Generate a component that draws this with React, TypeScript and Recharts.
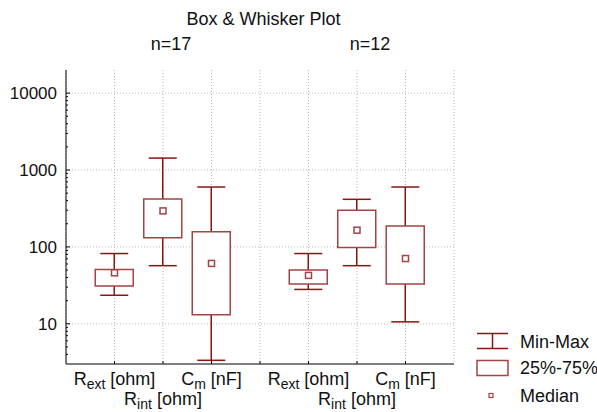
import React from 'react';
import { ComposedChart, Bar, Scatter, XAxis, YAxis, CartesianGrid } from 'recharts';

// categories: 3 variables for each group, with an empty slot between the groups
const categories = ['ext17', 'int17', 'cm17', 'gap', 'ext12', 'int12', 'cm12'];
const minValues = [23.5, 57, 3.35, null, 28, 57, 10.6];
const q1Values = [31, 132, 13.1, null, 33, 98, 33];
const medianValues = [46, 294, 61, null, 42.6, 165, 70.6];
const q3Values = [51, 420, 157, null, 50, 300, 187];
const maxValues = [82, 1430, 601, null, 82, 416, 601];

const tickLabels = [
  { base: 'R', sub: 'ext', unit: ' [ohm]', line: 1 },
  { base: 'R', sub: 'int', unit: ' [ohm]', line: 2 },
  { base: 'C', sub: 'm', unit: ' [nF]', line: 1 },
  null,
  { base: 'R', sub: 'ext', unit: ' [ohm]', line: 1 },
  { base: 'R', sub: 'int', unit: ' [ohm]', line: 2 },
  { base: 'C', sub: 'm', unit: ' [nF]', line: 1 },
];

const majorTicks = [10, 100, 1000, 10000];
const minorTicks = [
  4, 5, 6, 7, 8, 9,
  20, 30, 40, 50, 60, 70, 80, 90,
  200, 300, 400, 500, 600, 700, 800, 900,
  2000, 3000, 4000, 5000, 6000, 7000, 8000, 9000,
];
const allTicks = [...minorTicks, ...majorTicks].sort((a, b) => a - b);

const groupLabels = [
  { text: 'n=17', x: 171 },
  { text: 'n=12', x: 370 },
];

const data = categories.map((cat, i) => ({
  cat,
  min: minValues[i],
  q1: q1Values[i],
  median: medianValues[i],
  q3: q3Values[i],
  max: maxValues[i],
}));

const FONT = '"Liberation Sans", Arial, sans-serif';
const WHISKER = '#8b1414';
const BOX = '#a34444';

const Whisker = (props: any) => {
  const { x, y, width, height } = props;
  if (x == null || y == null || !height) return null;
  const cx = x + width / 2;
  const top = Math.min(y, y + height);
  const bottom = Math.max(y, y + height);
  const cap = 14;
  return (
    <g stroke={WHISKER} strokeWidth={1.5}>
      <line x1={cx} x2={cx} y1={top} y2={bottom} />
      <line x1={cx - cap} x2={cx + cap} y1={top} y2={top} />
      <line x1={cx - cap} x2={cx + cap} y1={bottom} y2={bottom} />
    </g>
  );
};

const MedianMark = (props: any) => {
  const { cx, cy } = props;
  if (cx == null || cy == null || isNaN(cy)) return null;
  return <rect x={cx - 3} y={cy - 3} width={6} height={6} fill="#fff" stroke={BOX} strokeWidth={1.5} />;
};

const XTick = (props: any) => {
  const { x, y, payload } = props;
  const lab = tickLabels[categories.indexOf(payload.value)];
  return (
    <g>
      <line x1={x} x2={x} y1={y} y2={y - 3} stroke="#000" />
      {lab && (
        <text x={x} y={y + (lab.line === 1 ? 21 : 41)} textAnchor="middle" fontSize={18} fontFamily={FONT} fill="#111">
          <tspan>{lab.base}</tspan>
          <tspan fontSize={14} dy={4}>{lab.sub}</tspan>
          <tspan dy={-4}>{lab.unit}</tspan>
        </text>
      )}
    </g>
  );
};

const LeftTick = (props: any) => {
  const { x, y, payload } = props;
  const major = majorTicks.includes(payload.value);
  return (
    <g>
      <line x1={x} x2={x + (major ? 4 : 2)} y1={y} y2={y} stroke="#000" />
      {major && (
        <text x={x - 9} y={y} dy="0.35em" textAnchor="end" fontSize={17} fontFamily={FONT} fill="#111">
          {payload.value}
        </text>
      )}
    </g>
  );
};

const RightTick = (props: any) => {
  const { x, y, payload } = props;
  const major = majorTicks.includes(payload.value);
  return <line x1={x} x2={x - (major ? 4 : 2)} y1={y} y2={y} stroke="#000" />;
};

const textStyle: React.CSSProperties = {
  position: 'absolute',
  fontFamily: FONT,
  fontSize: 18,
  color: '#111',
  whiteSpace: 'nowrap',
  lineHeight: '20px',
};

export default function App() {
  return (
    <div style={{ position: 'absolute', left: 0, top: 0, width: 597, height: 412, background: '#fff' }}>
      <ComposedChart width={597} height={412} data={data} margin={{ top: 70, right: 143, bottom: 0, left: 0 }}>
        <CartesianGrid stroke="#bbb" strokeDasharray="1 2" horizontalValues={majorTicks} />
        <XAxis
          dataKey="cat"
          type="category"
          padding={{ left: 24.25, right: 24.25 }}
          height={48}
          interval={0}
          tickSize={0}
          tickMargin={0}
          tickLine={false}
          axisLine={{ stroke: '#000' }}
          tick={<XTick />}
        />
        <XAxis
          xAxisId="top"
          dataKey="cat"
          type="category"
          orientation="top"
          padding={{ left: 24.25, right: 24.25 }}
          height={0}
          tick={false}
          tickLine={false}
          axisLine={{ stroke: '#000' }}
        />
        <YAxis
          type="number"
          scale="log"
          domain={[3, 20000]}
          allowDataOverflow
          ticks={allTicks}
          interval={0}
          width={66}
          tickSize={0}
          tickMargin={0}
          tickLine={false}
          axisLine={{ stroke: '#000' }}
          tick={<LeftTick />}
        />
        <YAxis
          yAxisId="right"
          orientation="right"
          type="number"
          scale="log"
          domain={[3, 20000]}
          allowDataOverflow
          ticks={allTicks}
          interval={0}
          width={0}
          tickSize={0}
          tickMargin={0}
          tickLine={false}
          axisLine={{ stroke: '#000' }}
          tick={<RightTick />}
        />
        <Bar
          xAxisId="top"
          dataKey={(d: any) => (d.min == null ? null : [d.min, d.max])}
          barSize={38}
          shape={<Whisker />}
          isAnimationActive={false}
        />
        <Bar
          dataKey={(d: any) => (d.q1 == null ? null : [d.q1, d.q3])}
          barSize={38}
          fill="#fff"
          stroke={BOX}
          strokeWidth={1.5}
          isAnimationActive={false}
        />
        <Scatter dataKey="median" shape={<MedianMark />} isAnimationActive={false} />
      </ComposedChart>

      <div style={{ ...textStyle, left: 0, width: 527, top: 9, textAlign: 'center' }}>Box &amp; Whisker Plot</div>
      {groupLabels.map((g) => (
        <div key={g.text} style={{ ...textStyle, left: g.x - 40, width: 80, top: 34, textAlign: 'center' }}>
          {g.text}
        </div>
      ))}

      {/* legend */}
      <svg style={{ position: 'absolute', left: 470, top: 325 }} width={45} height={80}>
        <g stroke={WHISKER} strokeWidth={1.5}>
          <line x1={7} x2={38} y1={8.5} y2={8.5} />
          <line x1={7} x2={38} y1={23.5} y2={23.5} />
          <line x1={22.5} x2={22.5} y1={8.5} y2={23.5} />
        </g>
        <rect x={7} y={35.5} width={31} height={15} fill="#fff" stroke={BOX} strokeWidth={1.5} />
        <rect x={19} y={68.5} width={4} height={4} fill="#fff" stroke={BOX} strokeWidth={1.2} />
      </svg>
      <div style={{ ...textStyle, left: 520, top: 332 }}>Min-Max</div>
      <div style={{ ...textStyle, left: 520, top: 358 }}>25%-75%</div>
      <div style={{ ...textStyle, left: 520, top: 386 }}>Median</div>
    </div>
  );
}
